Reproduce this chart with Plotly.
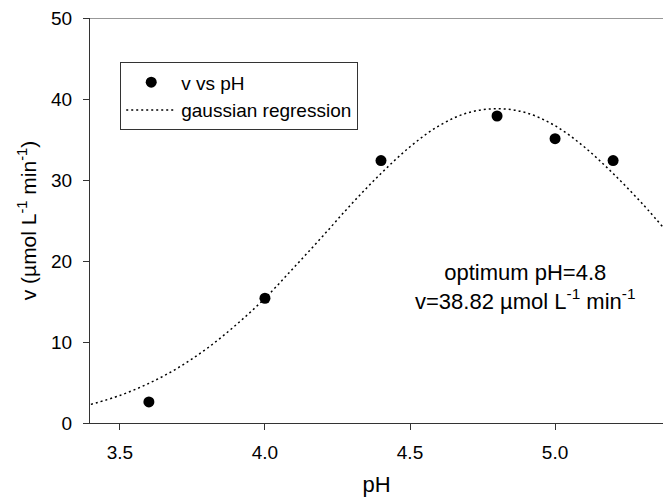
import plotly.graph_objects as go

# measured data
ph_points = [3.6, 4.0, 4.4, 4.8, 5.0, 5.2]
v_points = [2.6, 15.4, 32.4, 37.9, 35.1, 32.4]

# gaussian regression curve
ph_curve = [3.4, 3.5, 3.6, 3.7, 3.8, 3.9, 4.0, 4.1, 4.2, 4.3, 4.4, 4.5, 4.6, 4.7,
            4.8, 4.9, 5.0, 5.1, 5.2, 5.3, 5.4]
v_curve = [2.3, 3.4, 4.9, 6.8, 9.2, 12.1, 15.4, 19.2, 23.1, 27.1, 30.8, 34.1, 36.7, 38.3,
           38.8, 38.3, 36.7, 34.1, 30.8, 27.1, 23.0]

x_ticks = [3.5, 4.0, 4.5, 5.0]
x_tick_labels = ["3.5", "4.0", "4.5", "5.0"]
y_ticks = [0, 10, 20, 30, 40, 50]

FONT = "Liberation Sans, Arial, sans-serif"
AX = "#333333"

fig = go.Figure()
fig.add_trace(go.Scatter(
    x=ph_points, y=v_points, mode="markers", name="v vs pH",
    marker=dict(color="black", size=11),
))
fig.add_trace(go.Scatter(
    x=ph_curve, y=v_curve, mode="lines", name="gaussian regression",
    line=dict(color="black", width=1.5, dash="2px,3px", shape="spline"),
))

fig.add_shape(type="line", xref="paper", yref="y", x0=0, x1=1, y0=50, y1=50,
              line=dict(color=AX, width=1.2))

fig.add_annotation(
    x=0.759, y=0.336, xref="paper", yref="paper", xanchor="center", yanchor="middle",
    text="optimum pH=4.8<br>v=38.82 µmol L<sup>-1</sup> min<sup>-1</sup>",
    showarrow=False, font=dict(family=FONT, size=22, color="black"), align="center",
)

fig.update_layout(
    width=663, height=497,
    margin=dict(l=90, r=0, t=18, b=74),
    plot_bgcolor="white", paper_bgcolor="white",
    font=dict(family=FONT, size=19, color="black"),
    showlegend=True,
    legend=dict(
        x=0.0524, y=0.891, xanchor="left", yanchor="top",
        bordercolor=AX, borderwidth=1.2, bgcolor="white",
        font=dict(family=FONT, size=19, color="black"),
        tracegroupgap=0, itemwidth=50,
    ),
    xaxis=dict(
        range=[3.397, 5.372], tickvals=x_ticks, ticktext=x_tick_labels,
        ticks="outside", ticklen=6, tickcolor=AX, tickwidth=1.2,
        showgrid=False, zeroline=False,
        showline=True, linecolor=AX, linewidth=1.2, ticklabelstandoff=6,
        tickfont=dict(family=FONT, size=19),
        title=dict(text="pH", font=dict(family=FONT, size=22), standoff=16),
    ),
    yaxis=dict(
        range=[0, 50], tickvals=y_ticks,
        ticks="outside", ticklen=6, tickcolor=AX, tickwidth=1.2,
        showgrid=False, zeroline=False,
        showline=True, linecolor=AX, linewidth=1.2, ticklabelstandoff=7,
        tickfont=dict(family=FONT, size=19),
        title=dict(text="v (µmol L<sup>-1</sup> min<sup>-1</sup>)",
                   font=dict(family=FONT, size=21), standoff=8),
    ),
)

fig.write_html("out.html")
